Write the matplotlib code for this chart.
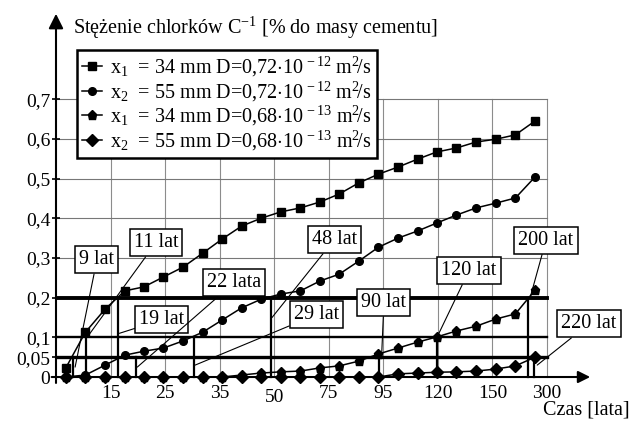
import matplotlib
matplotlib.use('Agg')
from matplotlib import pyplot
from matplotlib import transforms

pyplot.rcParams['font.family'] = ['Liberation Serif', 'DejaVu Serif']
pyplot.rcParams['mathtext.fontset'] = 'custom'
pyplot.rcParams['mathtext.rm'] = 'Liberation Serif'
pyplot.rcParams['mathtext.it'] = 'Liberation Serif:italic'
pyplot.rcParams['mathtext.bf'] = 'Liberation Serif:bold'

## time axis is not linear: each labelled year sits one grid step further
tick_labels = ['15', '25', '35', '50', '75', '95', '120', '150', '300']
tick_pos = [1, 2, 3, 4, 5, 6, 7, 8, 9]

# sample positions along the time axis (grid units), shared by all series
t_pos = [0.18, 0.54, 0.90, 1.26, 1.61, 1.97, 2.33, 2.69, 3.05, 3.40, 3.76,
         4.12, 4.48, 4.84, 5.19, 5.55, 5.91, 6.27, 6.63, 6.98, 7.34, 7.70,
         8.06, 8.42, 8.78]

# chloride concentration [% of cement mass]
c_x1_d12 = [0.023, 0.113, 0.171, 0.217, 0.227, 0.252, 0.277, 0.312, 0.348,
            0.380, 0.400, 0.416, 0.426, 0.441, 0.461, 0.489, 0.511, 0.529,
            0.549, 0.567, 0.577, 0.592, 0.599, 0.610, 0.645]
c_x2_d12 = [0.0, 0.005, 0.030, 0.055, 0.065, 0.073, 0.091, 0.113, 0.144,
            0.174, 0.196, 0.209, 0.217, 0.242, 0.259, 0.292, 0.327, 0.350,
            0.368, 0.388, 0.408, 0.426, 0.438, 0.451, 0.504]
c_x1_d13 = [0.0, 0.0, 0.0, 0.0, 0.0, 0.0, 0.0, 0.0, 0.0, 0.005, 0.010, 0.013,
            0.015, 0.023, 0.028, 0.040, 0.058, 0.073, 0.088, 0.101, 0.116,
            0.128, 0.146, 0.159, 0.219]
c_x2_d13 = [0.0, 0.0, 0.0, 0.0, 0.0, 0.0, 0.0, 0.0, 0.0, 0.0, 0.0, 0.0, 0.0,
            0.0, 0.0, 0.0, 0.0, 0.008, 0.010, 0.012, 0.013, 0.015, 0.020,
            0.028, 0.050]

series = [c_x1_d12, c_x2_d12, c_x1_d13, c_x2_d13]
markers = ['s', 'o', 'p', 'D']
marker_size = [5.5, 5.5, 6.5, 6]
labels = [r'x$_1$  = 34 mm D=0,72$\cdot$10$^{\,-12}$ m$^2\!$/s',
          r'x$_2$  = 55 mm D=0,72$\cdot$10$^{\,-12}$ m$^2\!$/s',
          r'x$_1$  = 34 mm D=0,68$\cdot$10$^{\,-13}$ m$^2\!$/s',
          r'x$_2$  = 55 mm D=0,68$\cdot$10$^{\,-13}$ m$^2\!$/s']

# threshold levels and the moments they are reached
levels = [0.2, 0.1, 0.05]
level_lw = [2.8, 1.7, 2.4]
cross_text = ['9 lat', '11 lat', '19 lat', '22 lata', '29 lat', '48 lat',
              '90 lat', '120 lat', '200 lat', '220 lat']
cross_pos = [0.31, 0.55, 1.14, 1.47, 2.53, 3.94, 5.92, 6.98, 8.65, 8.76]
cross_level = [0.05, 0.1, 0.2, 0.05, 0.1, 0.2, 0.05, 0.1, 0.2, 0.05]
# where the label boxes sit and where their leaders end
box_xy = [(0.75, 0.295), (1.83, 0.338), (1.94, 0.144), (3.26, 0.237),
          (4.77, 0.157), (5.10, 0.346), (6.01, 0.187), (7.57, 0.268),
          (8.98, 0.344), (9.77, 0.134)]
leader_end = [(0.35, 0.025), (0.57, 0.10), (1.16, 0.11), (1.49, 0.025),
              (2.55, 0.03), (3.96, 0.15), (5.97, 0.06), (7.0, 0.105),
              (8.69, 0.2), (8.82, 0.03)]

fig = pyplot.figure(figsize=(6.34, 4.21), dpi=100)
ax = fig.add_axes([56 / 634, 0.0762, 0.8606, 0.9052])
ax.set_xlim(0, 10)
ax.set_ylim(-0.03, 0.93)
for s in ax.spines.values():
    s.set_visible(False)

# thin grid
for p in tick_pos:
    ax.plot([p, p], [0, 0.7], color='#8c8c8c', lw=0.8, zorder=1)
for yv in [0.3, 0.4, 0.5, 0.6, 0.7]:
    ax.plot([0, 9], [yv, yv], color='#777777', lw=0.8, zorder=1)

# threshold lines
for yv, w in zip(levels, level_lw):
    ax.plot([0, 9], [yv, yv], color='black', lw=w, zorder=2)

# drop lines
for p, lv in zip(cross_pos, cross_level):
    ax.plot([p, p], [0, lv], color='black', lw=1.6, zorder=2)

# series
for ys, m, ms, lab in zip(series, markers, marker_size, labels):
    ax.plot(t_pos, ys, color='black', lw=1.1, marker=m, markersize=ms,
            label=lab, clip_on=False, zorder=4)

# axes arrows
ax.annotate('', xy=(0, 0.915), xytext=(0, -0.015),
            arrowprops=dict(arrowstyle='-|>', color='black', lw=1.5,
                            mutation_scale=22, shrinkA=0, shrinkB=0),
            annotation_clip=False)
ax.annotate('', xy=(9.79, 0), xytext=(-0.08, 0),
            arrowprops=dict(arrowstyle='-|>', color='black', lw=1.5,
                            mutation_scale=18, shrinkA=0, shrinkB=0),
            annotation_clip=False)

# ticks
ax.set_yticks([0, 0.05, 0.1, 0.2, 0.3, 0.4, 0.5, 0.6, 0.7])
ax.set_yticklabels(['0', '0,05', '0,1', '0,2', '0,3', '0,4', '0,5', '0,6', '0,7'],
                   fontsize=14)
ax.tick_params(axis='y', length=6, width=1.2, pad=1, direction='inout')
ax.set_xticks(tick_pos)
ax.set_xticklabels(tick_labels, fontsize=14)
ax.tick_params(axis='x', length=0, pad=-2.5)
# the "50" label is printed a bit lower in the original
for t in ax.get_xticklabels():
    if t.get_text() == '50':
        t.set_transform(t.get_transform() +
                        transforms.ScaledTranslation(0, -4 / 100, fig.dpi_scale_trans))

# crossing labels
for txt, bxy, end in zip(cross_text, box_xy, leader_end):
    ax.annotate(txt, xy=end, xytext=bxy, fontsize=14.5, ha='center', va='center',
                bbox=dict(boxstyle='square,pad=0.2', fc='white', ec='black', lw=1.1),
                arrowprops=dict(arrowstyle='-', color='black', lw=0.8,
                                shrinkA=0, shrinkB=0),
                annotation_clip=False, zorder=6)

leg = ax.legend(loc='upper left', bbox_to_anchor=(77 / 634, 371 / 421),
                bbox_transform=fig.transFigure, fontsize=14.5, frameon=True,
                fancybox=False, framealpha=1, edgecolor='black',
                handlelength=1.0, handletextpad=0.4, labelspacing=0.02,
                borderpad=0.25, borderaxespad=0)
leg.get_frame().set_linewidth(1.8)
leg.set_zorder(7)

fig.text(73 / 634, 387 / 421, r'Stężenie chlorków C$^{-1}$ [% do masy cementu]',
         fontsize=14.5, ha='left', va='baseline')
fig.text(630 / 634, 6 / 421, 'Czas [lata]', fontsize=14.5, ha='right',
         va='baseline')

pyplot.savefig('out.png', dpi=100)
pyplot.close()
